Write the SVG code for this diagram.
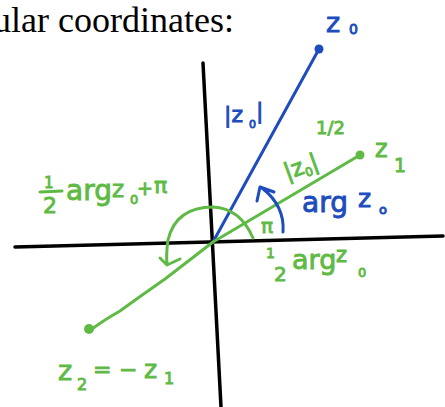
<svg xmlns="http://www.w3.org/2000/svg" width="445" height="407" viewBox="0 0 445 407">
<style>
.ax{stroke:#000;stroke-width:3.5;fill:none;stroke-linecap:round}
.bl{stroke:#1c4cbd;stroke-width:3;fill:none;stroke-linecap:round;stroke-linejoin:round}
.gr{stroke:#5fba45;stroke-width:3;fill:none;stroke-linecap:round;stroke-linejoin:round}
.tb{fill:#1c4cbd;stroke:#1c4cbd;stroke-width:0.9;font-family:"DejaVu Sans",sans-serif}
.tg{fill:#5fba45;stroke:#5fba45;stroke-width:0.9;font-family:"DejaVu Sans",sans-serif}
</style>
<rect width="445" height="407" fill="#fff"/>
<text x="234" y="32" text-anchor="end" font-family="Liberation Serif, serif" font-size="36" fill="#000">ular coordinates:</text>
<g id="connectors">
<line class="ax" x1="203" y1="63" x2="221" y2="407"/>
<line class="ax" x1="15" y1="247" x2="443" y2="236"/>
<line class="bl" x1="213" y1="242" x2="319" y2="49"/>
<path class="gr" d="M360,155 L213,242 L165,279 Q135,300 120,311 Q104,320 92,329"/>
<path class="gr" d="M253,238 Q240,208 213,207 Q176,207 168,240 Q166,254 167,264 M160,258 L167,265 L180,259"/>
<path class="bl" d="M283,232 Q285,206 262,188 M257,201 L260,187 L274,192"/>
</g>
<g id="z0">
<circle cx="319" cy="49" r="4.5" fill="#1c4cbd"/>
<text class="tb" x="326" y="32" font-size="27">z</text>
<text class="tb" x="349" y="34" font-size="14">0</text>
</g>
<g id="modz0-blue">
<text class="tb" x="224" y="122" font-size="22">|z</text>
<text class="tb" x="249" y="128" font-size="11">0</text>
<text class="tb" x="256" y="118" font-size="22">|</text>
</g>
<g id="argz0-blue">
<text class="tb" x="302" y="212" font-size="28">arg</text>
<text class="tb" x="358" y="207" font-size="25">z</text>
<text class="tb" x="379" y="214" font-size="13">o</text>
</g>
<g id="z1">
<circle cx="360" cy="155" r="4.5" fill="#5fba45"/>
<text class="tg" x="375" y="157" font-size="24">z</text>
<text class="tg" x="394" y="172" font-size="19">1</text>
<text class="tg" x="316" y="134" font-size="18">1/2</text>
<text class="tg" transform="rotate(-20 287 180)" x="287" y="180" font-size="23">|z<tspan font-size="12" dy="4">0</tspan><tspan dy="-4">|</tspan></text>
<text class="tg" x="261" y="233" font-size="20">π</text>
</g>
<g id="halfarg-plus-pi">
<text class="tg" x="44" y="188" font-size="15">1</text>
<line class="gr" x1="40" y1="192" x2="62" y2="191"/>
<text class="tg" x="43" y="213" font-size="22">2</text>
<text class="tg" x="66" y="200" font-size="28">arg</text>
<text class="tg" x="112" y="197" font-size="23">z</text>
<text class="tg" x="130" y="204" font-size="13">0</text>
<text class="tg" x="137" y="195" font-size="19">+</text>
<text class="tg" x="154" y="193" font-size="22">π</text>
</g>
<g id="halfarg">
<text class="tg" x="266" y="258" font-size="14">1</text>
<text class="tg" x="274" y="281" font-size="20">2</text>
<text class="tg" x="292" y="269" font-size="27">arg</text>
<text class="tg" x="336" y="262" font-size="21">z</text>
<text class="tg" x="358" y="277" font-size="13">0</text>
</g>
<g id="z2">
<circle cx="89" cy="329" r="5" fill="#5fba45"/>
<text class="tg" x="58" y="380" font-size="27">z</text>
<text class="tg" x="77" y="390" font-size="16">2</text>
<text class="tg" x="93" y="377" font-size="22">=</text>
<text class="tg" x="119" y="377" font-size="22">−</text>
<text class="tg" x="144" y="378" font-size="25">z</text>
<text class="tg" x="164" y="384" font-size="16">1</text>
</g>
</svg>
